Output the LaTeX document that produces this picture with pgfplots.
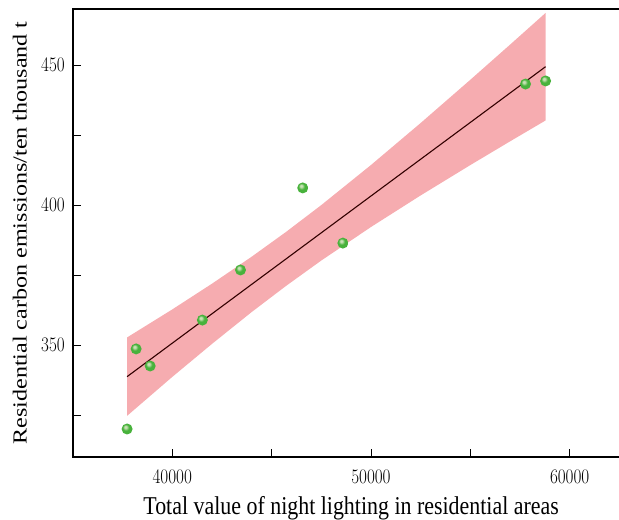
\documentclass[border=0pt]{standalone}
\usepackage{pgfplots}
\pgfplotsset{compat=1.18}
\usepgfplotslibrary{fillbetween}
\usepackage{fontspec}
\setmainfont{Liberation Serif}
\definecolor{band}{RGB}{246,172,176}
\definecolor{gl}{RGB}{200,225,180}
\definecolor{gm}{RGB}{72,178,60}
\definecolor{gd}{RGB}{55,150,45}
\definecolor{fitline}{RGB}{50,0,0}
\pgfdeclareradialshading{gball}{\pgfpoint{-8bp}{10bp}}{color(0bp)=(gl); color(5bp)=(gl); color(14bp)=(gm); color(40bp)=(gm); color(50bp)=(gd)}
\pgfdeclareplotmark{gball}{\pgfpathcircle{\pgfpointorigin}{\pgfplotmarksize}\pgfshadepath{gball}{0}\pgfusepath{discard}}
\begin{document}
\begin{tikzpicture}
\begin{axis}[
  at={(0,0)}, anchor=south west,
  scale only axis, width=556.4bp, height=448bp,
  xmin=35000, xmax=63000, ymin=310, ymax=470,
  xtick={40000,50000,60000}, minor xtick={45000,55000},
  ytick={350,400,450}, minor ytick={325,375,425},
  scaled x ticks=false,
  xticklabel style={/pgf/number format/1000 sep={}, font=\fontsize{21}{24}\selectfont, xscale=0.83, inner sep=0pt, anchor=center, yshift=-20bp},
  yticklabel style={font=\fontsize{21}{24}\selectfont, xscale=0.83, inner sep=0pt, anchor=east, xshift=-9.6bp},
  tick align=inside,
  major tick length=8bp, minor tick length=8bp,
  every tick/.style={black, line width=0.9bp},
  xtick pos=bottom, ytick pos=left,
  axis line style={line width=1.2bp},
  xlabel={Total value of night lighting in residential areas},
  ylabel={Residential carbon emissions/ten thousand t},
  xlabel style={font=\fontsize{22}{25}\selectfont, at={(axis description cs:0.5,0)}, anchor=base, yshift=-57.5bp, yscale=1.17},
  ylabel style={font=\fontsize{20}{23}\selectfont, at={(axis description cs:0,0.5)}, anchor=base, yshift=46.2bp, xscale=1.21},
]
\addplot[draw=none, name path=up] coordinates {
 (37727,352.7) (40000,362.7) (42000,371.9) (44000,381.55) (45718,390.34) (47500,399.97)
 (50000,414.28) (52500,429.28) (55000,444.72) (57000,457.27) (58788,468.6)};
\addplot[draw=none, name path=lo] coordinates {
 (37727,324.7) (40000,338.6) (42000,350.4) (44000,361.79) (45718,371.06) (47500,380.17)
 (50000,392.14) (52500,403.42) (55000,414.26) (57000,422.73) (58788,430.2)};
\addplot[fill=band, draw=none] fill between[of=up and lo];
\addplot[fitline, line width=1.1bp] coordinates {(37727,338.7) (58788,449.4)};
\addplot[only marks, mark=gball, mark size=5.5bp] coordinates {
 (37727,320.0) (38182,348.6) (38889,342.5) (41515,358.9) (43434,376.8)
 (46566,406.1) (48586,386.4) (57778,443.2) (58788,444.3)};
\end{axis}
\pgfresetboundingbox
\path[use as bounding box] (-72.9bp,-63bp) rectangle (546.1bp,457bp);
\end{tikzpicture}
\end{document}
